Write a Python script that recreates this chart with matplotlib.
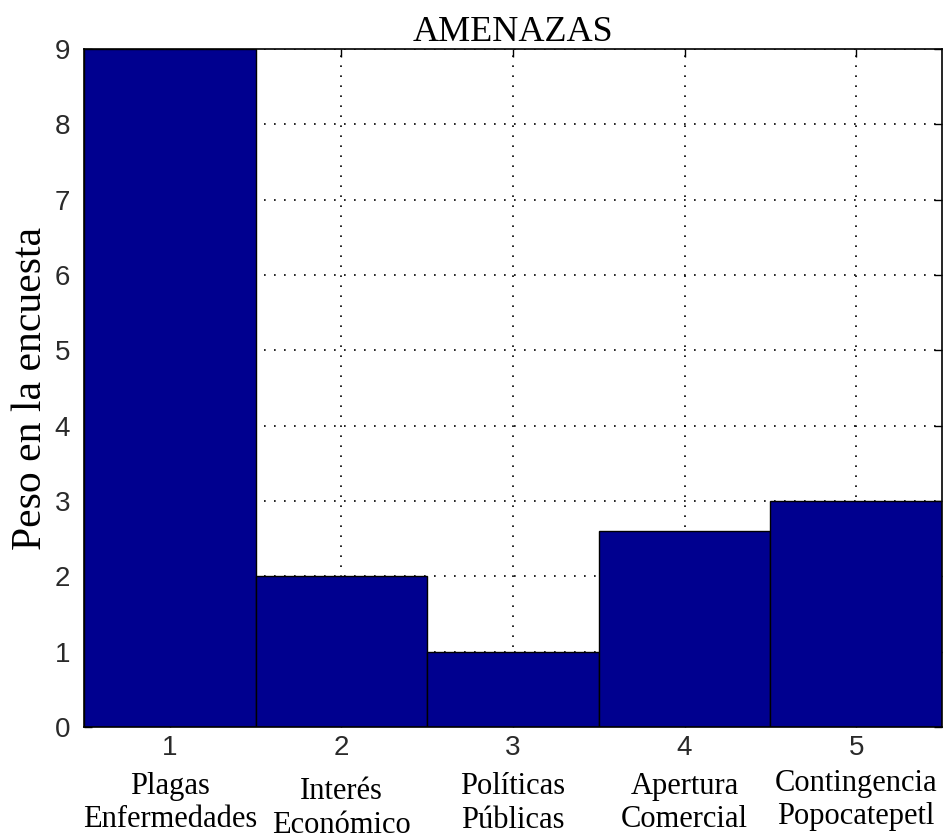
import matplotlib.pyplot as plt
import matplotlib.transforms as mtransforms

# data
positions = [1, 2, 3, 4, 5]
values = [9, 2, 1, 2.6, 3]
categories = ['Plagas\nEnfermedades', 'Interés\nEconómico', 'Políticas\nPúblicas',
              'Apertura\nComercial', 'Contingencia\nPopocatepetl']
yticks = [0, 1, 2, 3, 4, 5, 6, 7, 8, 9]

# vertical placement of the category captions (axes fraction, below the axis)
label_y = [-0.066, -0.074, -0.067, -0.066, -0.062]

tick_font = ['Liberation Sans Narrow', 'Liberation Sans', 'DejaVu Sans']

fig = plt.figure(figsize=(9.43, 8.4), dpi=100)
ax = fig.add_axes([0.089, 0.1345, 0.910, 0.807])

ax.set_axisbelow(True)
ax.bar(positions, values, width=1.0, color='#00008f', edgecolor='black', linewidth=1.0, zorder=2)

ax.set_xlim(0.5, 5.5)
ax.set_ylim(0, 9)
ax.set_xticks(positions)
ax.set_yticks(yticks)
ax.grid(True, linestyle=(0, (1, 5)), color='black', linewidth=1.2, zorder=0)
ax.tick_params(direction='in', top=True, right=True, length=6, width=1,
               labelsize=20)
ax.tick_params(axis='x', pad=6)
ax.tick_params(axis='y', pad=10)
for lbl in ax.get_xticklabels() + ax.get_yticklabels():
    lbl.set_fontfamily(tick_font)
    lbl.set_color('#2a2a2a')
for sp in ax.spines.values():
    sp.set_linewidth(1.2)

ax.set_title('AMENAZAS', fontfamily='Liberation Serif', fontsize=26, pad=6)
ax.set_ylabel('Peso en la encuesta', fontfamily='Liberation Serif', fontsize=30, labelpad=3)

trans = mtransforms.blended_transform_factory(ax.transData, ax.transAxes)
for x, cat, ly in zip(positions, categories, label_y):
    ax.text(x, ly, cat, transform=trans, ha='center', va='top',
            fontfamily='Liberation Serif', fontsize=22, linespacing=1.2)

plt.savefig('out.png', dpi=100)
